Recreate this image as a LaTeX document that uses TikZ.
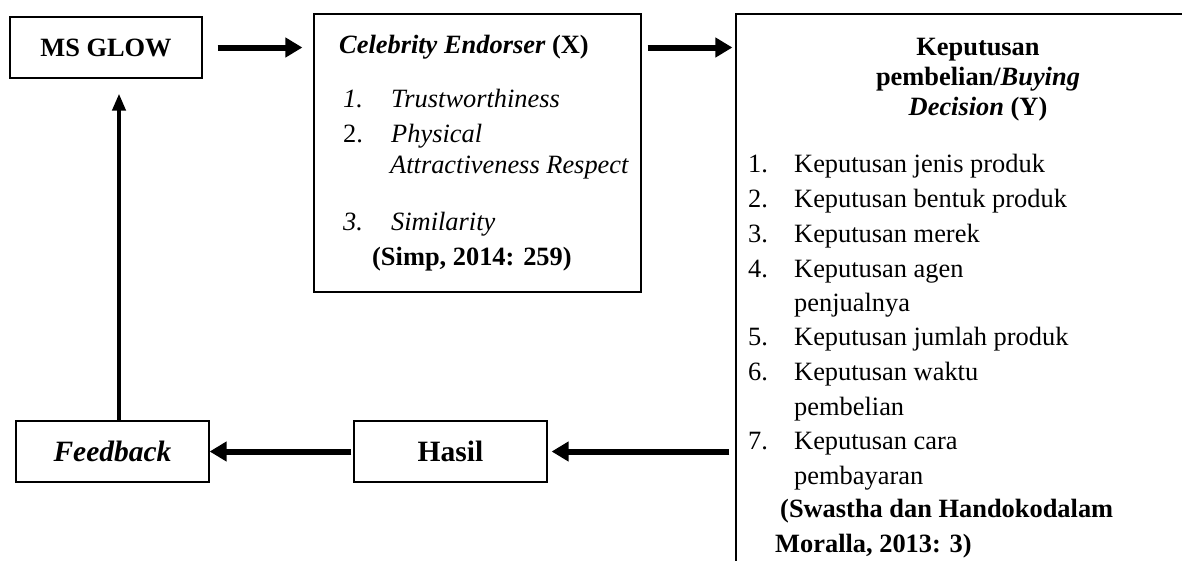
\documentclass[tikz,border=0pt]{standalone}
\usepackage{fontspec}
\setmainfont{Liberation Serif}
\usepackage{tikz}
\usetikzlibrary{arrows.meta,calc,positioning}
\newcommand{\figfont}{\fontsize{26.4}{34.7}\selectfont}
\newcommand{\boxfont}{\fontsize{29.5}{36}\selectfont}
\tikzset{
  box/.style={draw=black, line width=1.2pt, inner sep=0pt, font=\figfont},
  txt/.style={font=\figfont, inner sep=0pt, anchor=base west},
  ctxt/.style={font=\figfont, inner sep=0pt, anchor=base},
  bigarrow/.style={line width=6pt, -{Triangle[length=17pt,width=19pt]}},
  thinarrow/.style={line width=4pt, -{Triangle[length=17pt,width=13pt]}},
}

\begin{document}
\begin{tikzpicture}[x=1pt, y=-1pt]
\useasboundingbox (0,0) rectangle (1182,560);
% boxes
\node[box, minimum width=192pt, minimum height=61pt] (msglow) at (106,47.5) {\bfseries MS GLOW\hspace{8pt}};
\node[box, minimum width=327pt, minimum height=278pt] (celeb) at (477.5,153) {};
\node[box, minimum width=482pt, minimum height=586pt] (kep) at (977,307) {};
\node[box, font=\boxfont, minimum width=193pt, minimum height=61pt] (feedback) at (112.5,451.5) {\bfseries\itshape Feedback};
\node[box, font=\boxfont, minimum width=193pt, minimum height=61pt] (hasil) at (450.5,451.5) {\bfseries Hasil};
% celebrity endorser
\node[txt] (celebtitle) at (339,53) {\textbf{\textit{Celebrity Endorser}} \textbf{(X)}};
\node[txt] (cnum1) at (343,107) {\textit{1.}};
\node[txt] (citem1) at (391,107) {\textit{Trustworthiness}};
\node[txt] (cnum2) at (343,142) {2.};
\node[txt] (citem2) at (391,142) {\textit{Physical}};
\node[txt] (citem2b) at (390,173) {\textit{Attractiveness Respect}};
\node[txt] (cnum3) at (343,230) {\textit{3.}};
\node[txt] (citem3) at (391,230) {\textit{Similarity}};
\node[txt] (csrc) at (372,265) {\textbf{(Simp, 2014: 259)}};
% keputusan pembelian
\node[ctxt] (keptitle1) at (978,55) {\textbf{Keputusan}};
\node[ctxt] (keptitle2) at (978,85) {\textbf{pembelian/\textit{Buying}}};
\node[ctxt] (keptitle3) at (978,115) {\textbf{\textit{Decision} (Y)}};
\node[txt] (knum1) at (748,172) {1.};
\node[txt] (kitem1) at (794,172) {Keputusan jenis produk};
\node[txt] (knum2) at (748,207) {2.};
\node[txt] (kitem2) at (794,207) {Keputusan bentuk produk};
\node[txt] (knum3) at (748,242) {3.};
\node[txt] (kitem3) at (794,242) {Keputusan merek};
\node[txt] (knum4) at (748,277) {4.};
\node[txt] (kitem4) at (794,277) {Keputusan agen};
\node[txt] (kitem4b) at (794,311) {penjualnya};
\node[txt] (knum5) at (748,345) {5.};
\node[txt] (kitem5) at (794,345) {Keputusan jumlah produk};
\node[txt] (knum6) at (748,380) {6.};
\node[txt] (kitem6) at (794,380) {Keputusan waktu};
\node[txt] (kitem6b) at (794,415) {pembelian};
\node[txt] (knum7) at (748,449) {7.};
\node[txt] (kitem7) at (794,449) {Keputusan cara};
\node[txt] (kitem7b) at (794,484) {pembayaran};
\node[txt] (ksrc1) at (780,517) {\textbf{(Swastha dan Handokodalam}};
\node[txt] (ksrc2) at (775,552) {\textbf{Moralla, 2013: 3)}};
% arrows
\draw[bigarrow, shorten <=15pt, shorten >=11pt] (msglow.east) -- (msglow.east -| celeb.west);
\draw[bigarrow, shorten <=6pt, shorten >=3pt] (celeb.east |- msglow.east) -- (kep.west |- msglow.east);
\draw[bigarrow, shorten <=6pt, shorten >=4pt] (kep.west |- hasil.east) -- (hasil.east);
\draw[bigarrow, shorten <=2pt] (hasil.west) -- (feedback.east);
\coordinate (fbup) at ([xshift=6.5pt]feedback.north);
\draw[thinarrow, shorten >=15pt] (fbup) -- (fbup |- msglow.south);
\end{tikzpicture}
\end{document}
